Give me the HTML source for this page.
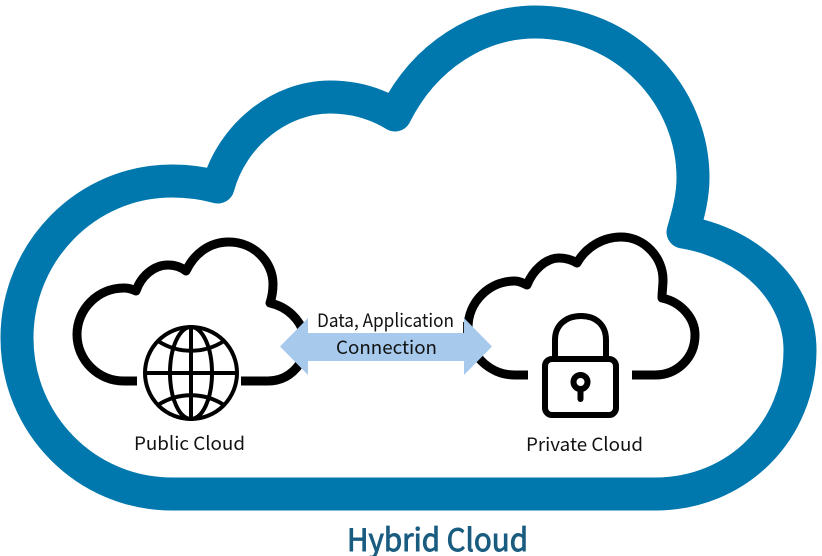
<!DOCTYPE html>
<html><head><meta charset="utf-8"><style>
html,body{margin:0;padding:0;background:#fff}
svg{display:block}
text{font-family:"Noto Sans CJK KR","Liberation Sans",sans-serif;fill:#111}
</style></head><body>
<svg width="822" height="556" viewBox="0 0 822 556" xmlns="http://www.w3.org/2000/svg">
<rect width="822" height="556" fill="#fff"/>
<path d="M172 494 C86 494 17 424 17 338 C17 252 86 181 172 181 C188 181 203 183 218 187 C232 135 280 97 330 97 C355 97 377 104 395 115 C425 55 480 22 535 22 C625 22 693 95 693 178 C693 197 688 215 683 232 C750 243 800 292 800 350 C800 430 738 494 655 494 Z" fill="#fff" stroke="#0077ad" stroke-width="33" stroke-linejoin="round"/>
<!-- Public cloud -->
<path d="M137 381 H124 C98 381 77 360 77 334.5 C77 309 98 288 124 288 C128 288 132 289 136 291 C141 276 154 265 168 265 C175 265 181 267 186 271 C194 254 209 242 229 242 C254 242 273 262 273 284 C273 291 272 297 270 303 C288 307 300 320 304 334" fill="none" stroke="#000" stroke-width="9" stroke-linejoin="round"/>
<path d="M241 381 H268 C284 381 296 372 303 358" fill="none" stroke="#000" stroke-width="9"/>
<!-- Globe -->
<g fill="none" stroke="#000" stroke-width="4">
<circle cx="191" cy="373" r="46"/>
<ellipse cx="191" cy="373" rx="21" ry="46"/>
<path d="M191 327 V419 M145 373 H237"/>
<path d="M158 341 C178 354 204 354 224 341"/>
<path d="M158 405 C178 392 204 392 224 405"/>
</g>
<!-- Private cloud -->
<path d="M528 375 H515 C489 375 468 354 468 328 C468 302 489 281 515 281 C519 281 523 283 527 285 C533 270 546 258 559 258 C566 258 572 260 577 263 C586 247 603 237 621 237 C644 237 663 257 663 280 C663 286 662 292 662 298 C681 302 695 318 695 335 C695 358 677 375 655 375 H632" fill="none" stroke="#000" stroke-width="9" stroke-linejoin="round"/>
<!-- Lock -->
<rect x="545" y="359" width="71" height="56" rx="7" fill="#fff" stroke="#000" stroke-width="6"/>
<path d="M555 358 V340 C555 325 566 316 581 316 C596 316 606 325 606 340 V358" fill="none" stroke="#000" stroke-width="6"/>
<circle cx="580.5" cy="382" r="7" fill="#fff" stroke="#000" stroke-width="6"/>
<path d="M580.5 390 V399" stroke="#000" stroke-width="6" stroke-linecap="round"/>
<!-- Arrow -->
<rect x="308" y="309" width="155" height="25" fill="#fff"/>
<path d="M463.5 322 V333" stroke="#222" stroke-width="1"/>
<path d="M280 346.5 L308 318 V333 H464 V318 L492 346.5 L464 375 V361 H308 V375 Z" fill="#a6c9ec"/>
<text x="317" y="327" font-size="18.5" textLength="137" lengthAdjust="spacingAndGlyphs">Data, Application</text>
<text x="336" y="354" font-size="18.5" textLength="101" lengthAdjust="spacingAndGlyphs">Connection</text>
<text x="134" y="450" font-size="18.5" textLength="111" lengthAdjust="spacingAndGlyphs">Public Cloud</text>
<text x="526" y="451" font-size="18.5" textLength="117" lengthAdjust="spacingAndGlyphs">Private Cloud</text>
<text x="347" y="551" font-size="31" style="fill:#1a5c80;stroke:#1a5c80;stroke-width:.9" textLength="181" lengthAdjust="spacingAndGlyphs">Hybrid Cloud</text>
</svg>
</body></html>
